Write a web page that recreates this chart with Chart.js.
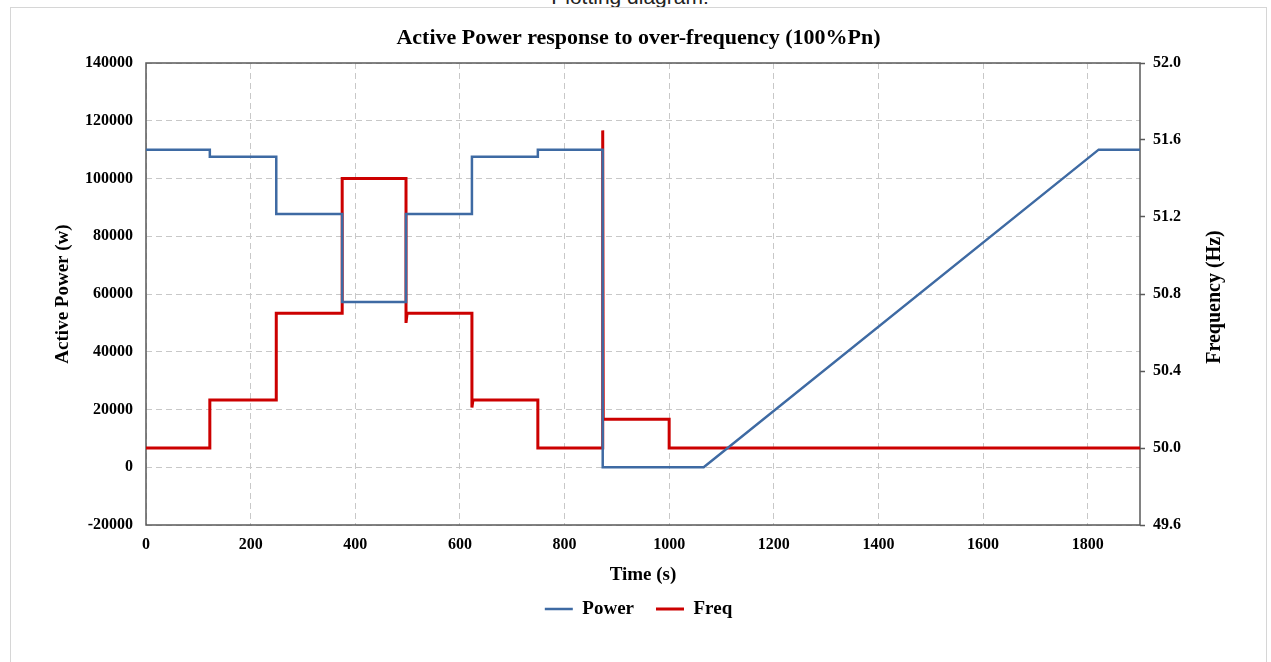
<!DOCTYPE html>
<html>
<head>
<meta charset="utf-8">
<script src="https://cdn.jsdelivr.net/npm/chart.js@4/dist/chart.umd.min.js"></script>
<style>
  body { margin: 0; background: #fff; width: 1271px; height: 662px; overflow: hidden; position: relative; }
  .caption { position: absolute; left: 0; width: 1260px; top: -15px; text-align: center;
             font-family: "Liberation Sans", Arial, sans-serif; font-size: 21px; line-height: 24px; color: #222; }
  .frame { position: absolute; left: 10px; top: 7px; width: 1255px; height: 700px; border: 1px solid #d6d6d6; }
  .box { position: absolute; left: 11px; top: 8px; width: 1255px; height: 654px; }
</style>
</head>
<body>
<div class="caption">Plotting diagram:</div>
<div class="frame"></div>
<div class="box"><canvas id="chart"></canvas></div>
<script>
// time (s) and active power (W)
const powerTime  = [0, 122, 122, 249, 249, 375, 375, 497, 497, 623, 623, 749, 749, 873, 873, 1066, 1821, 1900];
const powerValue = [110000, 110000, 107500, 107500, 87700, 87700, 57200, 57200, 87700, 87700, 107500, 107500, 110000, 110000, 0, 0, 110000, 110000];

// time (s) and grid frequency (Hz)
const freqTime  = [0, 122, 122, 249, 249, 375, 375, 497, 497, 499, 623, 623, 625, 749, 749, 873, 873, 874, 1000, 1000, 1900];
const freqValue = [50.0, 50.0, 50.25, 50.25, 50.70, 50.70, 51.40, 51.40, 50.65, 50.70, 50.70, 50.21, 50.25, 50.25, 50.0, 50.0, 51.65, 50.15, 50.15, 50.0, 50.0];

const xTicks = { min: 0, max: 1900, step: 200 };
const powerTicks = { min: -20000, max: 140000, step: 20000 };
const freqTicks = { min: 49.6, max: 52.0, step: 0.4 };

const serif = "'Liberation Serif', 'Times New Roman', serif";
const blue = '#3e6aa3';
const red = '#cc0000';
const axisColor = '#595959';
const gridColor = '#c8c8c8';
const freqTitle = 'Frequency (Hz)';

Chart.defaults.font.family = serif;
Chart.defaults.color = '#000';

const plotFrame = {
  id: 'plotFrame',
  beforeDatasetsDraw(chart) {
    const { ctx, chartArea: a } = chart;
    ctx.save();
    ctx.strokeStyle = axisColor;
    ctx.lineWidth = 1.5;
    ctx.strokeRect(a.left, a.top, a.right - a.left, a.bottom - a.top);
    ctx.restore();
  },
  afterDraw(chart) {
    // right axis title reads bottom-to-top like the left one
    const { ctx, chartArea: a } = chart;
    ctx.save();
    ctx.translate(1204, (a.top + a.bottom) / 2 + 3);
    ctx.rotate(-Math.PI / 2);
    ctx.font = 'bold 20px ' + serif;
    ctx.fillStyle = '#000';
    ctx.textAlign = 'center';
    ctx.textBaseline = 'middle';
    ctx.fillText(freqTitle, 0, 0);
    ctx.restore();
  }
};

const ctx = document.getElementById('chart').getContext('2d');
new Chart(ctx, {
  type: 'line',
  data: {
    datasets: [
      {
        label: 'Power',
        data: powerTime.map((t, i) => ({ x: t, y: powerValue[i] })),
        borderColor: blue,
        backgroundColor: blue,
        borderWidth: 2.5,
        pointRadius: 0,
        yAxisID: 'y'
      },
      {
        label: 'Freq',
        data: freqTime.map((t, i) => ({ x: t, y: freqValue[i] })),
        borderColor: red,
        backgroundColor: red,
        borderWidth: 3,
        pointRadius: 0,
        yAxisID: 'y1'
      }
    ]
  },
  options: {
    responsive: true,
    maintainAspectRatio: false,
    animation: false,
    layout: { padding: { left: 0, right: 0, top: 0, bottom: 33.5 } },
    plugins: {
      title: {
        display: true,
        text: 'Active Power response to over-frequency (100%Pn)',
        color: '#000',
        font: { size: 22, weight: 'bold' },
        padding: { top: 17, bottom: 11.6 }
      },
      legend: {
        position: 'bottom',
        labels: {
          usePointStyle: true,
          pointStyle: 'line',
          pointStyleWidth: 28,
          color: '#000',
          padding: 22,
          font: { size: 19, weight: 'bold' }
        }
      },
      tooltip: { enabled: false }
    },
    scales: {
      x: {
        type: 'linear',
        min: xTicks.min,
        max: xTicks.max,
        ticks: { stepSize: xTicks.step, includeBounds: false, padding: 10, maxRotation: 0,
                 font: { size: 16, weight: 'bold' }, callback: v => String(v) },
        grid: { color: gridColor, drawTicks: false },
        border: { display: false, dash: [6, 4] },
        title: { display: true, text: 'Time (s)', font: { size: 19, weight: 'bold' }, padding: { bottom: -9 } },
        afterFit(scale) { scale.height = 52.5; }
      },
      y: {
        position: 'left',
        min: powerTicks.min,
        max: powerTicks.max,
        ticks: { stepSize: powerTicks.step, padding: 13, font: { size: 16, weight: 'bold' },
                 callback: v => String(v) },
        grid: { color: gridColor, drawTicks: false },
        border: { display: false, dash: [6, 4] },
        title: { display: true, text: 'Active Power (w)', font: { size: 19, weight: 'bold' }, padding: { top: 40.6 } },
        afterFit(scale) { scale.width = 135; }
      },
      y1: {
        position: 'right',
        min: freqTicks.min,
        max: freqTicks.max,
        ticks: { stepSize: freqTicks.step, padding: 8, font: { size: 16, weight: 'bold' },
                 callback: v => Number(v).toFixed(1) },
        grid: { drawOnChartArea: false, tickLength: 5, tickColor: axisColor, tickWidth: 1.5 },
        border: { display: false },
        afterFit(scale) { scale.width = 126; }
      }
    }
  },
  plugins: [plotFrame]
});
</script>
</body>
</html>
